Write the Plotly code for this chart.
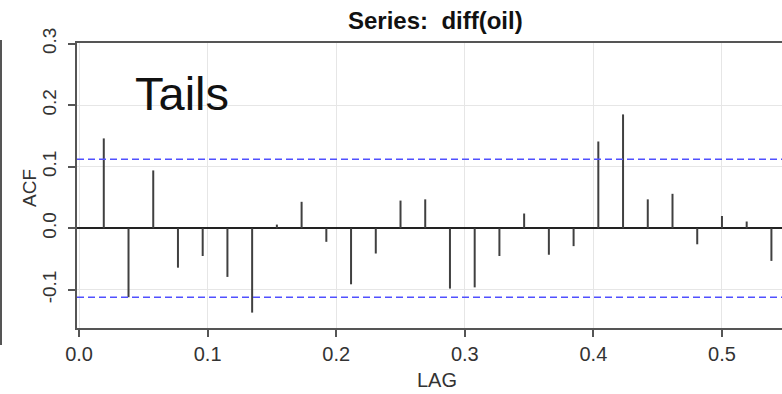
import plotly.graph_objects as go

# ---- data ----
lag_index = list(range(1, 29))
freq = 52
acf_values = [0.146, -0.112, 0.094, -0.064, -0.045, -0.079, -0.137, 0.006,
              0.043, -0.022, -0.091, -0.041, 0.045, 0.047, -0.098, -0.096,
              -0.045, 0.024, -0.043, -0.029, 0.141, 0.185, 0.047, 0.056,
              -0.026, 0.020, 0.011, -0.053]
conf_limit = 0.112
x_ticks = [0.0, 0.1, 0.2, 0.3, 0.4, 0.5]
y_ticks = [-0.1, 0.0, 0.1, 0.2, 0.3]
title_text = "Series:  diff(oil)"
overlay_text = "Tails"

lags = [k / freq for k in lag_index]

W, H = 782, 394
ML, MR, MT, MB = 77, 0, 43, 66
PW, PH = W - ML - MR, H - MT - MB

def px_x(p):
    return (p - ML) / PW

def px_y(p):
    return 1 - (p - MT) / PH

xs, ys = [], []
for lg, v in zip(lags, acf_values):
    xs += [lg, lg, None]
    ys += [0, v, None]

fig = go.Figure()
fig.add_trace(go.Scatter(x=xs, y=ys, mode="lines",
                         line=dict(color="#404040", width=2),
                         hoverinfo="skip", showlegend=False))

font_family = "Liberation Sans, Arial, sans-serif"
axis_col = "#555555"

fig.update_layout(
    width=W, height=H,
    margin=dict(l=ML, r=MR, t=MT, b=MB, autoexpand=False),
    paper_bgcolor="white", plot_bgcolor="white",
    font=dict(family=font_family, color="#333333"),
    showlegend=False,
    xaxis=dict(range=[-0.0016, 0.5467], tickvals=x_ticks,
               ticktext=[f"{t:.1f}" for t in x_ticks], automargin=False,
               showgrid=True, gridcolor="#e6e6e6", gridwidth=1,
               showline=True, linecolor=axis_col, linewidth=2, mirror=True,
               ticks="outside", ticklen=7, tickwidth=2, tickcolor=axis_col,
               tickfont=dict(size=20, color="#333333"), zeroline=False),
    yaxis=dict(range=[-0.162, 0.301], tickvals=y_ticks, automargin=False,
               ticktext=[f"{t:.1f}" for t in y_ticks], tickangle=-90,
               ticklabelstandoff=4,
               showgrid=True, gridcolor="#e6e6e6", gridwidth=1,
               showline=True, linecolor=axis_col, linewidth=2,
               ticks="outside", ticklen=7, tickwidth=2, tickcolor=axis_col,
               tickfont=dict(size=19, color="#333333"),
               zeroline=True, zerolinecolor="#222222", zerolinewidth=1.5),
)

for c in (conf_limit, -conf_limit):
    fig.add_shape(type="line", xref="paper", x0=0, x1=1, yref="y", y0=c, y1=c,
                  line=dict(color="#5050ff", width=1.5, dash="7px,4px"))

# left-edge panel line
fig.add_shape(type="line", xref="paper", yref="paper",
              x0=px_x(1), x1=px_x(1), y0=px_y(40), y1=px_y(345),
              line=dict(color="#555555", width=2))

fig.add_annotation(text=f"<b>{title_text}</b>", xref="paper", yref="paper",
                   x=px_x(436), y=px_y(21), xanchor="center", yanchor="middle",
                   showarrow=False, font=dict(size=24, color="#111111"))
fig.add_annotation(text=overlay_text, xref="paper", yref="paper",
                   x=px_x(133), y=px_y(93), xanchor="left", yanchor="middle",
                   showarrow=False, font=dict(size=47, color="#111111"))
fig.add_annotation(text="ACF", xref="paper", yref="paper", textangle=-90,
                   x=px_x(29), y=px_y(188), xanchor="center", yanchor="middle",
                   showarrow=False, font=dict(size=19, color="#333333"))
fig.add_annotation(text="LAG", xref="paper", yref="paper",
                   x=px_x(437), y=px_y(380), xanchor="center", yanchor="middle",
                   showarrow=False, font=dict(size=20, color="#333333"))

fig.write_html("out.html", config={"displayModeBar": False},
               post_script="document.body.style.margin='0';document.body.style.overflow='hidden';")
